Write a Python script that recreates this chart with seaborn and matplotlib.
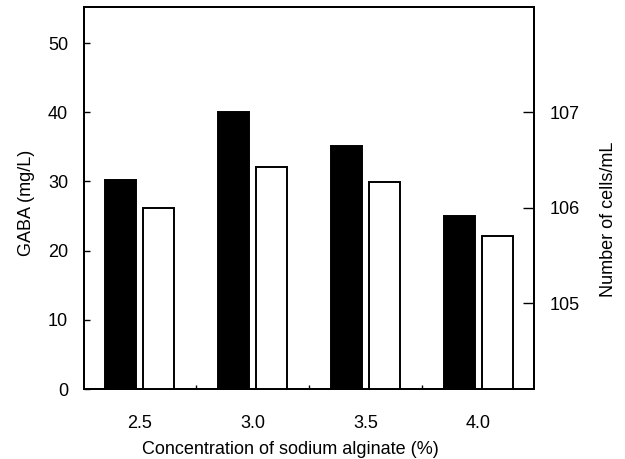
import numpy as np
import pandas as pd
import matplotlib
matplotlib.use("Agg")
import matplotlib.pyplot as plt
import seaborn as sns

# ---- data ----
concentrations = ["2.5", "3.0", "3.5", "4.0"]
gaba_mg_per_l = [30.2, 40.0, 35.1, 25.0]          # black bars, left axis
log10_cells_per_ml = [6.0, 6.43, 6.27, 5.70]      # white bars, right axis (log10 units)
left_ticks = [0, 10, 20, 30, 40, 50]
right_ticks = [5, 6, 7]
right_tick_labels = ["105", "106", "107"]
series_order = ["GABA", "Cells"]

sns.set_theme(style="ticks")
plt.rcParams["font.family"] = ["Liberation Sans", "DejaVu Sans"]

fig = plt.figure(figsize=(6.25, 4.59), dpi=100)
ax = fig.add_axes([0.1344, 0.1525, 0.72, 0.832])
ax2 = ax.twinx()

df_gaba = pd.DataFrame({"conc": concentrations, "value": gaba_mg_per_l, "series": "GABA"})
df_cells = pd.DataFrame({"conc": concentrations, "value": log10_cells_per_ml, "series": "Cells"})
palette = {"GABA": "black", "Cells": "white"}

common = dict(x="conc", y="value", hue="series", hue_order=series_order, order=concentrations,
              palette=palette, width=0.68, gap=0.19, dodge=True, edgecolor="black", linewidth=1.4,
              legend=False, saturation=1, err_kws={"linewidth": 0})
sns.barplot(data=df_gaba, ax=ax, **common)
sns.barplot(data=df_cells, ax=ax2, **common)

ax.set_xlim(-0.49, 3.49)
ax.set_ylim(0, 55.2)
ax2.set_ylim(4.10, 8.10)

ax.set_yticks(left_ticks)
ax.set_yticklabels([str(t) for t in left_ticks])
ax2.set_yticks(right_ticks)
ax2.set_yticklabels(right_tick_labels)

ax.set_xticks(range(len(concentrations)))
ax.set_xticklabels(concentrations)
ax.set_xticks([0.5, 1.5, 2.5], minor=True)

fs = 13
ax.tick_params(axis="x", which="major", length=0, pad=19, labelsize=fs, colors="black")
ax.tick_params(axis="x", which="minor", direction="in", length=3, width=1, colors="black")
ax.tick_params(axis="y", direction="in", length=4, width=1, pad=11.5, labelsize=fs,
               colors="black", left=True, right=False)
ax2.tick_params(axis="y", direction="in", length=8, width=1, pad=11.5, labelsize=fs,
                colors="black", right=True, left=False)
ax2.tick_params(axis="x", length=0, labelbottom=False)

ax.set_xlabel("Concentration of sodium alginate (%)", fontsize=fs, labelpad=5, color="black")
ax.xaxis.set_label_coords(0.458, -0.135)
ax.set_ylabel("GABA (mg/L)", fontsize=fs, labelpad=9, color="black")
ax.yaxis.label.set_y(0.487)
ax2.set_ylabel("Number of cells/mL", fontsize=fs, labelpad=14, color="black")
ax2.yaxis.label.set_y(0.445)

for a in (ax, ax2):
    for s in a.spines.values():
        s.set_visible(True)
        s.set_color("black")
        s.set_linewidth(1.4)
    a.grid(False)

fig.savefig("out.png", dpi=100)
